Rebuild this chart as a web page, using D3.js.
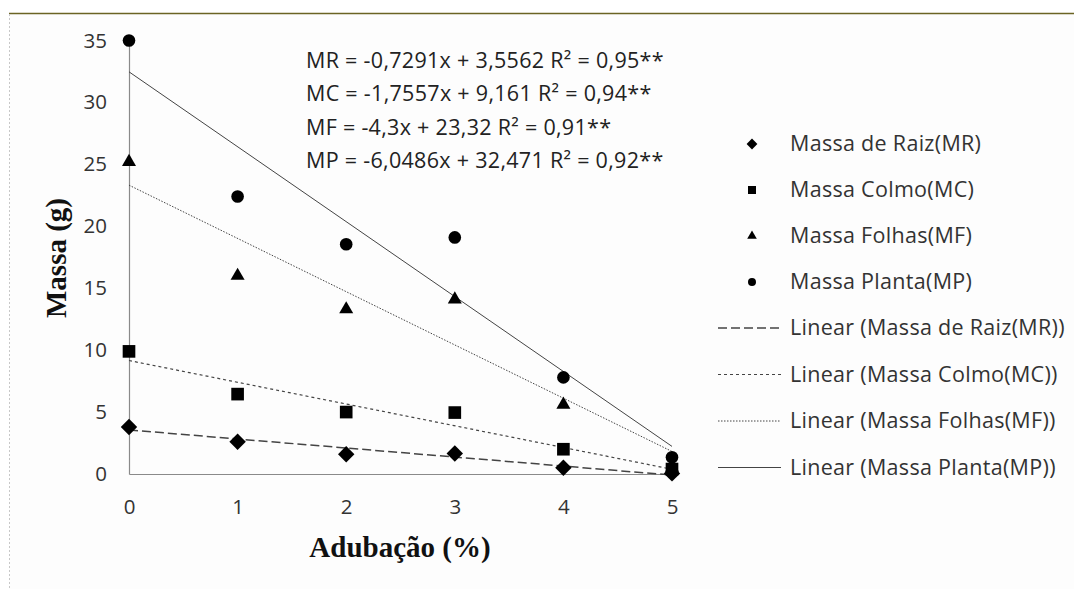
<!DOCTYPE html>
<html>
<head>
<meta charset="utf-8">
<script src="https://cdn.jsdelivr.net/npm/d3@7"></script>
<style>
  body { margin: 0; background: #fff; }
</style>
</head>
<body>
<script>
//data
var doses = [0, 1, 2, 3, 4, 5];
var massaRaiz = [3.8, 2.6, 1.6, 1.65, 0.5, 0.05];
var massaColmo = [9.9, 6.45, 5.0, 4.96, 2.0, 0.4];
var massaFolhas = [25.2, 16.0, 13.3, 14.1, 5.6, 0.5];
var massaPlanta = [35.0, 22.4, 18.55, 19.1, 7.8, 1.35];
var yTicks = [0, 5, 10, 15, 20, 25, 30, 35];
var slopes = [-0.7291, -1.7557, -4.3, -6.0486];
var intercepts = [3.5562, 9.161, 23.32, 32.471];
var equations = [
  "MR = -0,7291x + 3,5562 R\u00b2 = 0,95**",
  "MC = -1,7557x + 9,161 R\u00b2 = 0,94**",
  "MF = -4,3x + 23,32 R\u00b2 = 0,91**",
  "MP = -6,0486x + 32,471 R\u00b2 = 0,92**"
];
var seriesNames = ["Massa de Raiz(MR)", "Massa Colmo(MC)", "Massa Folhas(MF)", "Massa Planta(MP)"];

var series = [massaRaiz, massaColmo, massaFolhas, massaPlanta];
var symbols = [d3.symbolSquare, d3.symbolSquare, d3.symbolTriangle, d3.symbolCircle];
var symRot = [45, 0, 0, 0];
var symSize = [135, 160, 85, 125];
var legSize = [58, 64, 40, 50];
var dashes = ["9,4", "3,3", "1.5,1.5", null];
var lineW = [1.5, 1.2, 1, 1];

var sans = "'Open Sans', 'Liberation Sans', Arial, sans-serif";
var serif = "'Liberation Serif', 'Times New Roman', serif";

//setup
var svg = d3.select("body")
    .append("svg")
    .attr("width", 1074)
    .attr("height", 589);

svg.append("rect")
    .attr("x", 9).attr("y", 13)
    .attr("width", 1065).attr("height", 576)
    .attr("fill", "#fdfdfd");

// frame
svg.append("line")
    .attr("x1", 9).attr("x2", 1074).attr("y1", 13.5).attr("y2", 13.5)
    .attr("stroke", "#6b6424").attr("stroke-width", 1.5);
svg.append("line")
    .attr("x1", 9.5).attr("x2", 9.5).attr("y1", 14).attr("y2", 589)
    .attr("stroke", "#c8c8c8").attr("stroke-dasharray", "2,2");

var x = d3.scaleLinear().domain([0, 5]).range([129, 672]);
var y = d3.scaleLinear().domain([0, 35]).range([474, 40.5]);

// axes
var xAxis = svg.append("g")
    .attr("transform", "translate(0,474)")
    .call(d3.axisBottom(x).tickValues(doses).tickSize(0).tickPadding(25).tickFormat(d3.format("d")));
var yAxis = svg.append("g")
    .attr("transform", "translate(129,0)")
    .call(d3.axisLeft(y).tickValues(yTicks).tickSize(0).tickPadding(22));

[xAxis, yAxis].forEach(function (a) {
    a.select(".domain").attr("stroke", "#8a8a8a").attr("stroke-width", 1.2);
    a.selectAll("text")
        .style("font-family", sans).style("font-size", "20.5px")
        .attr("fill", "#333");
});

// axis titles
svg.append("text")
    .attr("x", 400).attr("y", 557)
    .attr("text-anchor", "middle")
    .style("font-family", serif).style("font-weight", "bold").style("font-size", "29px")
    .attr("fill", "#111")
    .text("Adubação (%)");
svg.append("text")
    .attr("transform", "translate(66,258) rotate(-90)")
    .attr("text-anchor", "middle")
    .style("font-family", serif).style("font-weight", "bold").style("font-size", "29px")
    .attr("fill", "#111")
    .text("Massa (g)");

// trend lines
series.forEach(function (s, i) {
    var line = d3.line()
        .x(function (d) { return x(d) })
        .y(function (d) { return y(slopes[i] * d + intercepts[i]) });
    svg.append("path")
        .datum([doses[0], doses[doses.length - 1]])
        .attr("fill", "none")
        .attr("stroke", "#444")
        .attr("stroke-width", lineW[i])
        .attr("stroke-dasharray", dashes[i])
        .attr("d", line);
});

// points
series.forEach(function (s, i) {
    svg.append("g").selectAll("path")
        .data(s)
        .enter().append("path")
        .attr("transform", function (d, j) {
            return "translate(" + x(doses[j]) + "," + y(d) + ") rotate(" + symRot[i] + ")"
        })
        .attr("d", d3.symbol().type(symbols[i]).size(symSize[i]))
        .attr("fill", "#000");
});

// equations
svg.append("g").selectAll("text")
    .data(equations)
    .enter().append("text")
    .attr("x", 306)
    .attr("y", function (d, i) { return 68 + i * 33.3 })
    .style("font-family", sans).style("font-size", "21.5px").style("letter-spacing", "0.3px")
    .attr("fill", "#222")
    .text(function (d) { return d });

// legend
var leg = svg.append("g")
    .style("font-family", sans).style("font-size", "21.5px").style("letter-spacing", "0.3px");
seriesNames.forEach(function (n, i) {
    var ly = 144 + i * 46;
    leg.append("path")
        .attr("transform", "translate(752," + ly + ") rotate(" + symRot[i] + ")")
        .attr("d", d3.symbol().type(symbols[i]).size(legSize[i]))
        .attr("fill", "#000");
    leg.append("text")
        .attr("x", 790).attr("y", ly + 7)
        .attr("fill", "#333")
        .text(n);
});
seriesNames.forEach(function (n, i) {
    var ly = 328 + i * 46.5;
    leg.append("line")
        .attr("x1", 718).attr("x2", 781).attr("y1", ly).attr("y2", ly)
        .attr("stroke", "#444")
        .attr("stroke-width", lineW[i])
        .attr("stroke-dasharray", dashes[i]);
    leg.append("text")
        .attr("x", 790).attr("y", ly + 7)
        .attr("fill", "#333")
        .text("Linear (" + n + ")");
});
</script>
</body>
</html>
